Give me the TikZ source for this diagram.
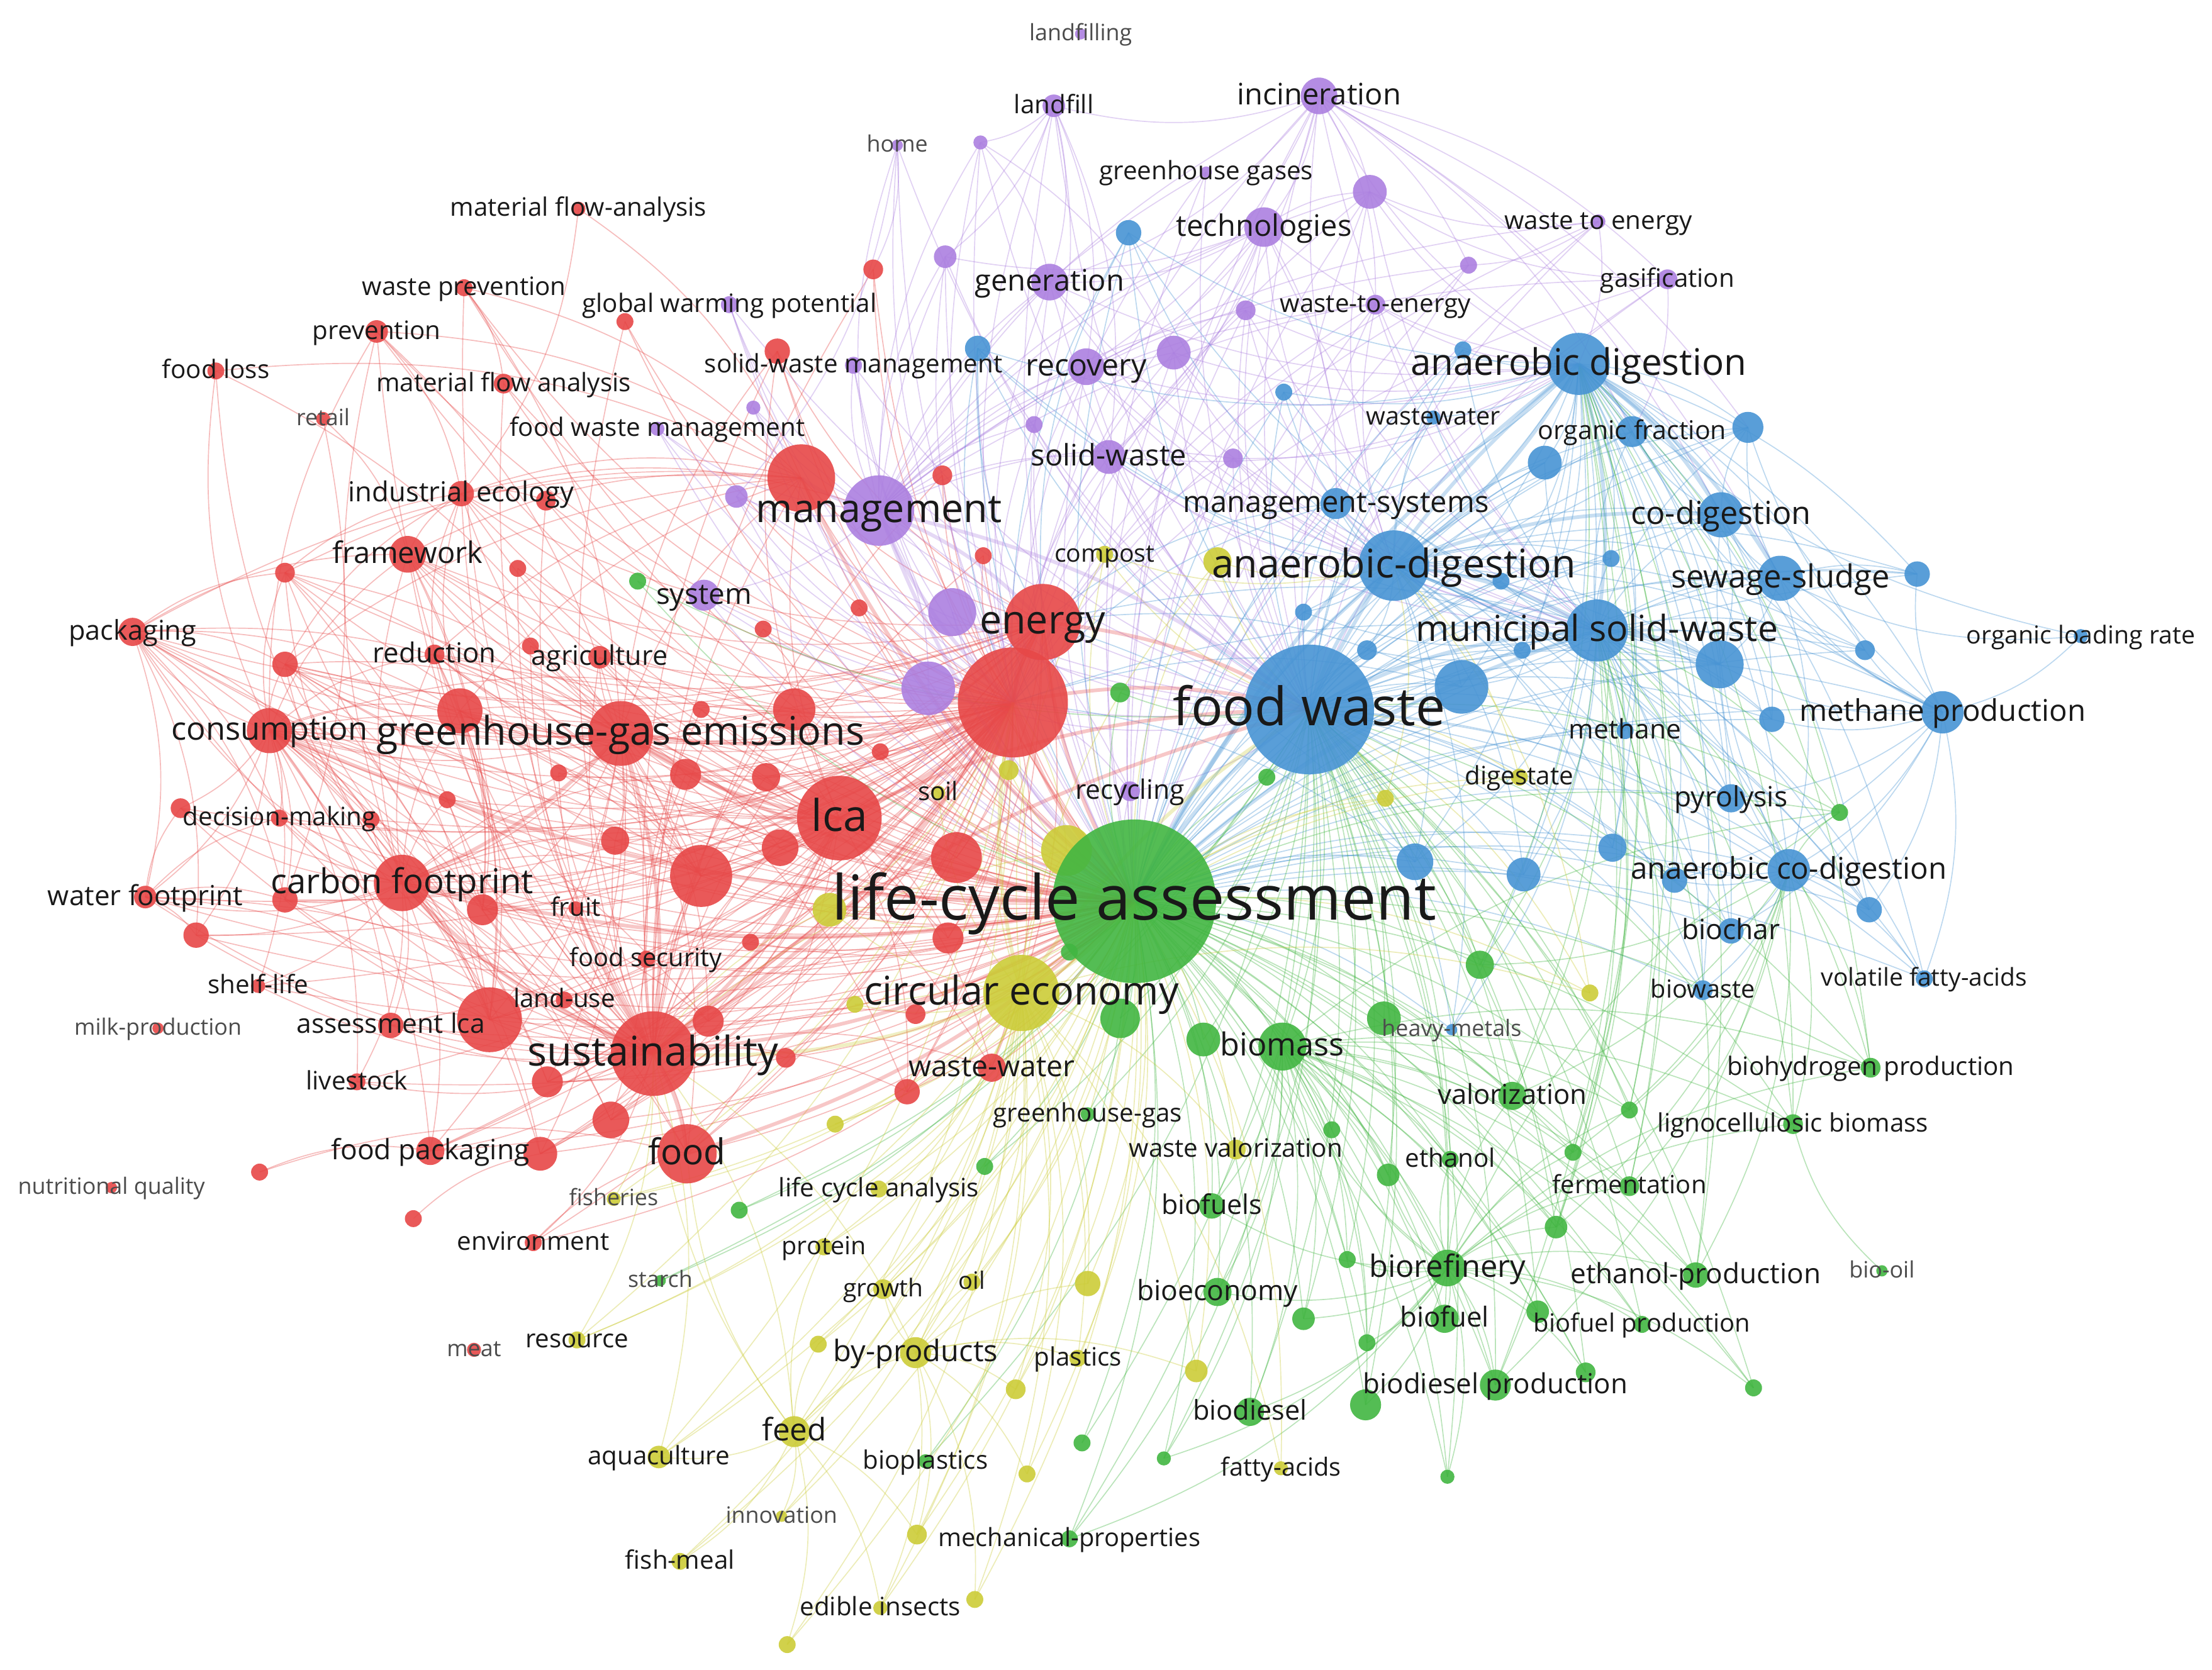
\documentclass[tikz,border=0pt]{standalone}
\usepackage{fontspec}
\setmainfont{Open Sans}
\usetikzlibrary{backgrounds}
\definecolor{cR}{RGB}{231,72,72}
\definecolor{cG}{RGB}{66,182,66}
\definecolor{cB}{RGB}{72,148,212}
\definecolor{cY}{RGB}{204,204,56}
\definecolor{cP}{RGB}{172,128,224}
\tikzset{
  bub/.style={circle, fill=#1, fill opacity=0.9, draw=none, inner sep=0pt, outer sep=0pt},
  lab/.style={inner sep=0pt, text=black!90, anchor=base},
  labg/.style={lab, text=black!70},
  lnk/.style={line width=0.75pt, draw opacity=0.36},
  thk/.style={line width=2.6pt, draw opacity=0.3},
}
\newcommand\kw[5]{\node[bub=#5, minimum size=#4*2pt] (#1) at (#2,#3) {};}
\newcommand\kl[3]{\node[lab, yshift=-0.3*#2pt, font=\fontsize{#2}{#2}\selectfont] (#1-l) at (#1.center) {#3};}
\newcommand\kg[3]{\node[labg, yshift=-0.3*#2pt, font=\fontsize{#2}{#2}\selectfont] (#1-l) at (#1.center) {#3};}
\newcommand\fan[3]{\foreach \hh in {#2}{\foreach \nn in {#3}{\draw[lnk,draw=#1] (\hh.center) to[bend left=16] (\nn.center);}}}
\newcommand\fat[2]{\foreach \aa/\bb in {#2}{\draw[thk,draw=#1] (\aa.center) to[bend left=12] (\bb.center);}}
\begin{document}
\begin{tikzpicture}[x=1pt,y=-1pt]
\useasboundingbox (0,0) rectangle (1568,1183.6);
% ---------------- purple
\kw{Plandfilling}{766}{24}{4}{cP}
\kw{Plandfill}{747}{75}{8}{cP}
\kw{Pincin}{935}{68}{13}{cP}
\kw{Phome}{636}{103}{4}{cP}
\kw{Pu1}{695}{101}{5}{cP}
\kw{Pghgases}{855}{122}{4}{cP}
\kw{Pu2}{971}{136}{12}{cP}
\kw{Ptech}{896}{161}{14}{cP}
\kw{Pwte}{1133}{157}{5}{cP}
\kw{Pgasif}{1182}{198}{7}{cP}
\kw{Pu3}{1041}{188}{6}{cP}
\kw{Pu4}{670}{182}{8}{cP}
\kw{Pgen}{744}{200}{13}{cP}
\kw{Pu5}{883}{220}{7}{cP}
\kw{Pwtetwo}{975}{216}{7}{cP}
\kw{Pgwp}{517}{216}{6}{cP}
\kw{Pu6}{832}{250}{12}{cP}
\kw{Precov}{770}{260}{13}{cP}
\kw{Pswm}{605}{259}{6}{cP}
\kw{Pu7}{534}{289}{5}{cP}
\kw{Pfwm}{466}{304}{5}{cP}
\kw{Pu8}{733}{301}{6}{cP}
\kw{Psw}{786}{324}{12}{cP}
\kw{Pu9}{874}{325}{7}{cP}
\kw{Pu10}{522}{352}{8}{cP}
\kw{Psystem}{499}{422}{11}{cP}
\kw{Pu11}{675}{434}{17}{cP}
\kw{Pu12}{658}{488}{19}{cP}
\kw{Precyc}{801}{561}{7}{cP}
% ---------------- red
\kw{Rmfatwo}{410}{148}{5}{cR}
\kw{Rwp}{329}{204}{6}{cR}
\kw{Rgw}{443}{228}{6}{cR}
\kw{Rprev}{267}{235}{8}{cR}
\kw{Rfloss}{153}{263}{6}{cR}
\kw{Rmfa}{357}{272}{7}{cR}
\kw{Rretail}{229}{297}{5}{cR}
\kw{Ru1}{619}{191}{7}{cR}
\kw{Ru2}{551}{249}{9}{cR}
\kw{Rie}{327}{350}{9}{cR}
\kw{Ru3}{387}{355}{7}{cR}
\kw{Ru4}{568}{339}{24}{cR}
\kw{Ru5}{668}{337}{7}{cR}
\kw{Ru6}{697}{394}{6}{cR}
\kw{Rframe}{289}{393}{13}{cR}
\kw{Ru7}{202}{406}{7}{cR}
\kw{Ru8}{367}{403}{6}{cR}
\kw{Rpack}{94}{448}{10}{cR}
\kw{Ru9}{202}{471}{9}{cR}
\kw{Rred}{308}{464}{7}{cR}
\kw{Ru10}{376}{458}{6}{cR}
\kw{Ragri}{425}{466}{8}{cR}
\kw{Ru11}{609}{431}{6}{cR}
\kw{Ru12}{541}{446}{6}{cR}
\kw{Ru13}{563}{503}{15}{cR}
\kw{Ru14}{497}{503}{6}{cR}
\kw{Ru15}{326}{504}{16}{cR}
\kw{Rghg}{440}{520}{23}{cR}
\kw{Rcons}{191}{518}{16}{cR}
\kw{Ru16}{624}{533}{6}{cR}
\kw{Ru17}{396}{548}{6}{cR}
\kw{Ru18}{486}{549}{11}{cR}
\kw{Ru19}{543}{551}{10}{cR}
\kw{Ru20}{317}{567}{6}{cR}
\kw{Rdm}{198}{580}{6}{cR}
\kw{Ru21}{128}{573}{7}{cR}
\kw{Ru22}{263}{581}{6}{cR}
\kw{Rlca}{595}{580}{30}{cR}
\kw{Ru23}{436}{596}{10}{cR}
\kw{Ru24}{553}{601}{13}{cR}
\kw{Ru26}{497}{621}{22}{cR}
\kw{Rcf}{285}{626}{20}{cR}
\kw{Rwf}{103}{636}{8}{cR}
\kw{Ru27}{202}{638}{9}{cR}
\kw{Ru28}{342}{645}{11}{cR}
\kw{Rfruit}{408}{644}{5}{cR}
\kw{Ru29}{139}{663}{9}{cR}
\kw{Ru30}{672}{665}{11}{cR}
\kw{Ru31}{532}{668}{6}{cR}
\kw{Rfs}{458}{680}{6}{cR}
\kw{Rshelf}{183}{699}{5}{cR}
\kw{Rlanduse}{400}{709}{6}{cR}
\kw{Ru32}{347}{723}{23}{cR}
\kw{Ralca}{277}{727}{9}{cR}
\kw{Ru33}{502}{724}{11}{cR}
\kw{Ru34}{649}{719}{7}{cR}
\kw{Rmilk}{112}{729}{4}{cR}
\kw{Rsust}{463}{747}{30}{cR}
\kw{Ru35}{557}{750}{7}{cR}
\kw{Ru36}{388}{767}{11}{cR}
\kw{Rlive}{253}{767}{6}{cR}
\kw{Rww}{703}{757}{10}{cR}
\kw{Ru37}{643}{774}{9}{cR}
\kw{Ru38}{433}{794}{13}{cR}
\kw{Rfpack}{305}{816}{10}{cR}
\kw{Ru39}{383}{818}{12}{cR}
\kw{Rfood}{487}{818}{21}{cR}
\kw{Ru40}{184}{831}{6}{cR}
\kw{Rnq}{79}{842}{4}{cR}
\kw{Ru41}{293}{864}{6}{cR}
\kw{Renv}{378}{881}{6}{cR}
\kw{Rmeat}{336}{957}{5}{cR}
% ---------------- yellow
\kw{Ycompost}{783}{393}{6}{cY}
\kw{Yu1}{863}{398}{10}{cY}
\kw{Yu2}{715}{546}{7}{cY}
\kw{Ysoil}{665}{562}{5}{cY}
\kw{Ydigest}{1077}{551}{6}{cY}
\kw{Yu3}{982}{566}{6}{cY}
\kw{Yu4}{756}{603}{18}{cY}
\kw{Yu5}{588}{645}{12}{cY}
\kw{Yu6}{606}{712}{6}{cY}
\kw{Yu7}{1127}{704}{6}{cY}
\kw{Yu8}{592}{797}{6}{cY}
\kw{Ywv}{876}{815}{7}{cY}
\kw{Ylcatwo}{623}{843}{6}{cY}
\kw{Yfish}{435}{850}{5}{cY}
\kw{Yprotein}{584}{884}{6}{cY}
\kw{Ygrowth}{626}{914}{7}{cY}
\kw{Yoil}{689}{909}{6}{cY}
\kw{Yu9}{771}{910}{9}{cY}
\kw{Yresource}{409}{950}{6}{cY}
\kw{Yu10}{580}{953}{6}{cY}
\kw{Ybyp}{649}{959}{11}{cY}
\kw{Yplastics}{764}{963}{6}{cY}
\kw{Yu11}{848}{972}{8}{cY}
\kw{Yu12}{720}{985}{7}{cY}
\kw{Yfeed}{563}{1015}{11}{cY}
\kw{Yaqua}{467}{1033}{8}{cY}
\kw{Yu13}{728}{1045}{6}{cY}
\kw{Yfatty}{908}{1041}{5}{cY}
\kw{Yinnov}{554}{1075}{4}{cY}
\kw{Yu14}{650}{1088}{7}{cY}
\kw{Yfishmeal}{482}{1107}{6}{cY}
\kw{Yu15}{691}{1134}{6}{cY}
\kw{Yedible}{624}{1140}{5}{cY}
\kw{Yu16}{558}{1166}{6}{cY}
\kw{Yce}{724}{704}{27}{cY}
% ---------------- green
\kw{Gu1}{452}{412}{6}{cG}
\kw{Gu2}{794}{491}{7}{cG}
\kw{Gu3}{898}{551}{6}{cG}
\kw{Gu5}{1049}{684}{10}{cG}
\kw{Gu6}{794}{722}{14}{cG}
\kw{Gu7}{853}{737}{12}{cG}
\kw{Gbiomass}{909}{742}{17}{cG}
\kw{Gu8}{981}{722}{12}{cG}
\kw{Gu9}{1304}{576}{6}{cG}
\kw{Gghg}{771}{790}{5}{cG}
\kw{Gvalor}{1072}{777}{10}{cG}
\kw{Gbiohyd}{1326}{757}{7}{cG}
\kw{Gu10}{944}{801}{6}{cG}
\kw{Gu11}{1155}{787}{6}{cG}
\kw{Gligno}{1271}{797}{7}{cG}
\kw{Gu12}{984}{833}{8}{cG}
\kw{Gethanol}{1028}{822}{6}{cG}
\kw{Gu13}{1115}{817}{6}{cG}
\kw{Gferm}{1155}{841}{7}{cG}
\kw{Gu14}{698}{827}{6}{cG}
\kw{Gu15}{524}{858}{6}{cG}
\kw{Gbiofuels}{859}{855}{9}{cG}
\kw{Gu16}{1103}{870}{8}{cG}
\kw{Gstarch}{468}{908}{4}{cG}
\kw{Gu17}{955}{893}{6}{cG}
\kw{Gbioref}{1026}{899}{13}{cG}
\kw{Gethprod}{1202}{904}{9}{cG}
\kw{Gbiooil}{1334}{901}{4}{cG}
\kw{Gbioecon}{863}{916}{10}{cG}
\kw{Gu18}{924}{935}{8}{cG}
\kw{Gbiofuel}{1024}{935}{10}{cG}
\kw{Gu19}{1090}{930}{8}{cG}
\kw{Gbfprod}{1164}{939}{6}{cG}
\kw{Gu20}{969}{952}{6}{cG}
\kw{Gu21}{1124}{973}{7}{cG}
\kw{Gbdprod}{1060}{982}{11}{cG}
\kw{Gu22}{1243}{984}{6}{cG}
\kw{Gu23}{968}{996}{11}{cG}
\kw{Gbiodiesel}{886}{1001}{10}{cG}
\kw{Gu24}{767}{1023}{6}{cG}
\kw{Gu25}{825}{1034}{5}{cG}
\kw{Gu26}{1026}{1047}{5}{cG}
\kw{Gbioplast}{656}{1036}{5}{cG}
\kw{Gmech}{758}{1091}{6}{cG}
% ---------------- blue
\kw{Bu1}{800}{165}{9}{cB}
\kw{Bu2}{693}{247}{9}{cB}
\kw{Bu3}{1037}{248}{6}{cB}
\kw{Bu4}{910}{278}{6}{cB}
\kw{Bww}{1016}{296}{5}{cB}
\kw{Bu5}{1239}{303}{11}{cB}
\kw{Bof}{1157}{306}{11}{cB}
\kw{Bu6}{1095}{328}{12}{cB}
\kw{Bms}{947}{357}{11}{cB}
\kw{Bcod}{1220}{365}{16}{cB}
\kw{Bu7}{1142}{396}{6}{cB}
\kw{Bu8}{1064}{412}{6}{cB}
\kw{Bss}{1262}{410}{16}{cB}
\kw{Bu9}{1359}{407}{9}{cB}
\kw{Bu10}{924}{434}{6}{cB}
\kw{Bolr}{1475}{451}{5}{cB}
\kw{Bu11}{969}{461}{7}{cB}
\kw{Bu12}{1079}{461}{6}{cB}
\kw{Bu13}{1322}{461}{7}{cB}
\kw{Bu14}{1219}{471}{17}{cB}
\kw{Bu15}{1036}{487}{19}{cB}
\kw{Bmp}{1377}{505}{15}{cB}
\kw{Bu16}{1256}{510}{9}{cB}
\kw{Bmethane}{1152}{518}{6}{cB}
\kw{Bpyro}{1227}{566}{10}{cB}
\kw{Bu17}{1143}{601}{10}{cB}
\kw{Bu18}{1003}{611}{13}{cB}
\kw{Bu19}{1080}{620}{12}{cB}
\kw{Bacod}{1268}{617}{15}{cB}
\kw{Bu20}{1187}{624}{9}{cB}
\kw{Bu21}{1325}{645}{9}{cB}
\kw{Bbiochar}{1227}{660}{9}{cB}
\kw{Bvfa}{1364}{694}{6}{cB}
\kw{Bbiowaste}{1207}{702}{7}{cB}
\kw{Bhm}{1029}{730}{4}{cB}
\kw{Bad}{1119}{258}{22}{cB}
\kw{Bad2}{988}{401}{25}{cB}
\kw{Bmsw}{1132}{447}{22}{cB}
% ---------------- hubs
\kw{Pmgmt}{623}{362}{25}{cP}
\kw{Ru25}{678}{608}{18}{cR}
\kw{Renergy}{739}{441}{27}{cR}
\kw{Rbig}{718}{498}{39}{cR}
\kw{Bfw}{928}{503}{46}{cB}
\kw{Glca}{804}{639}{58}{cG}
\kw{Gu4}{758}{675}{6}{cG}

\begin{pgfonlayer}{background}
\fill[white] (0,0) rectangle (1568,1183.6);
% red
\fan{cR}{Glca,Rbig,Rghg,Rsust,Renergy,Rlca}{Ru2,Rie,Ru4,Rframe,Rpack,Ru9,Ru13,Ru15,Rcons,Ru18,Ru19,Ru23,Ru24,Ru25,Ru26,Rcf,Ru28,Ru30,Ru32,Ru33,Ru36,Ru38,Rfpack,Ru39,Rfood,Rww,Ru37,Ragri,Rred}
\fan{cR}{Glca,Rbig,Rsust}{Rmfa,Rprev,Rwp,Rgw,Ru1,Ru3,Ru5,Ru6,Ru7,Ru8,Ru10,Ru11,Ru12,Ru14,Ru16,Ru17,Ru20,Rdm,Ru21,Ru22,Rwf,Ru27,Rfruit,Ru29,Ru31,Rfs,Rshelf,Rlanduse,Ralca,Ru34,Ru35,Rlive,Renv}
\fan{cR}{Rcons,Rcf}{Rframe,Ru7,Ru9,Ru15,Rdm,Ru21,Ru22,Rwf,Ru27,Ru29,Rshelf,Ralca,Ru32,Rlive,Rfpack,Ru20,Rred,Rfloss,Rprev,Rpack,Ru26,Ru13,Ru18,Ru23,Ru24,Ru33,Ru36,Ru38,Rfood,Ru39}
\fan{cR}{Rframe,Ru15,Rred,Ru7,Ru9}{Rghg,Ru4,Rie,Ru26,Ru28,Ru32}
\fan{cR}{Rpack}{Ru9,Ru7,Rframe,Rghg,Ru15,Rwf,Ru27,Ru29,Rdm,Ru22,Ru32,Ru4}
\fan{cR}{Rwf}{Ru29,Ru21,Ru27,Rdm,Ru32,Rsust}
\fan{cR}{Rfloss}{Ru4,Rghg}
\fan{cR}{Rretail}{Rframe,Ru27}
\fan{cR}{Rmfatwo}{Ru4,Rie}
\fan{cR}{Rwp}{Rmfa,Ru4,Rghg}
\fan{cR}{Rprev}{Ru4,Rie,Rghg}
\fan{cR}{Rie}{Ru4,Pmgmt,Ru3}
\fan{cR}{Ru40}{Rfood,Rfpack}
\fan{cR}{Ru41}{Ru39}
\fan{cR}{Renv}{Rfood}
% purple
\fan{cP}{Glca,Bfw,Pmgmt,Rbig}{Plandfill,Pincin,Phome,Pu1,Pghgases,Pu2,Ptech,Pwte,Pgasif,Pu3,Pu4,Pgen,Pu5,Pwtetwo,Pgwp,Pu6,Precov,Pswm,Pu7,Pfwm,Pu8,Psw,Pu9,Pu10,Psystem,Pu11,Pu12,Precyc}
\fan{cP}{Bmsw,Bad2,Bad}{Pincin,Ptech,Pu2,Pgen,Precov,Psw,Pu6,Pwtetwo,Pu5,Pu9}
\fan{cP}{Pincin}{Ptech,Pu2,Plandfill,Pgen,Pwtetwo,Pu3,Pgasif,Bss,Bcod,Bu5,Bof,Precov,Psw}
\fan{cP}{Ptech}{Pgen,Precov,Psw,Pu2,Bms,Pu6,Pu4}
\fan{cP}{Plandfill}{Pgen,Precov,Psw,Pu4,Pu8,Pu1}
\fan{cP}{Pwte}{Pu3,Pu2,Bad}
\fan{cP}{Pgasif}{Pu2,Bof}
\fan{cP}{Phome}{Ru1,Pu10}
\fan{cP}{Pu1}{Pgen,Pu6}
% blue
\fan{cB}{Glca,Bfw,Bad,Bad2,Bmsw}{Bu1,Bu2,Bu3,Bu4,Bww,Bu5,Bof,Bu6,Bms,Bcod,Bu7,Bu8,Bss,Bu9,Bu10,Bu11,Bu12,Bu13,Bu14,Bu15,Bmp,Bu16,Bmethane,Bpyro,Bu17,Bu18,Bu19,Bacod,Bu20,Bu21,Bbiochar,Bvfa,Bbiowaste,Bhm}
\fan{cB}{Bolr}{Bmp,Bss,Bad}
\fan{cB}{Bmp}{Bss,Bu9,Bu13,Bu14,Bcod,Bacod,Bu21,Bu16,Bpyro,Bu5,Bof,Bvfa,Bbiochar,Bu20}
\fan{cB}{Bss}{Bcod,Bu9,Bu14,Bu5,Bacod,Bu13}
\fan{cB}{Bacod}{Bcod,Bu14,Bu21,Bbiochar,Bvfa,Bbiowaste,Bu20,Bu17}
\fan{cB}{Bcod}{Bu5,Bof,Bu14,Bu16}
\fan{cB}{Rbig,Renergy}{Bu1,Bu2,Bms,Bu18,Bu15,Bu14}
% green
\fan{cG}{Glca,Bfw}{Gu1,Gu2,Gu3,Gu4,Gu5,Gu6,Gu7,Gbiomass,Gu8,Gu9,Gghg,Gvalor,Gbiohyd,Gu10,Gu11,Gligno,Gu12,Gethanol,Gu13,Gferm,Gu14,Gu15,Gbiofuels,Gu16,Gstarch,Gu17,Gbioref,Gethprod,Gbioecon,Gu18,Gbiofuel,Gu19,Gbfprod,Gu20,Gu21,Gbdprod,Gu22,Gu23,Gbiodiesel,Gu24,Gu25,Gu26,Gbioplast,Gmech}
\fan{cG}{Gbiomass,Gbioref}{Gu10,Gu11,Gligno,Gu12,Gethanol,Gu13,Gferm,Gbiofuels,Gu16,Gu17,Gethprod,Gbioecon,Gu18,Gbiofuel,Gu19,Gbfprod,Gu20,Gu21,Gbdprod,Gu22,Gu23,Gbiodiesel,Gbiohyd,Gu9,Gvalor,Gu26,Gu25,Gmech}
\fan{cG}{Gbioref}{Gbiomass}
\fan{cG}{Bad,Bmsw,Bacod}{Gethprod,Gbiohyd,Gligno,Gferm,Gu9,Gbdprod,Gvalor,Gu5,Gu16,Gu13,Gu11}
\fan{cG}{Gbiooil}{Gligno}
% yellow
\fan{cY}{Glca,Yce}{Ycompost,Yu1,Yu2,Ysoil,Ydigest,Yu3,Yu4,Yu5,Yu6,Yu7,Yu8,Ywv,Ylcatwo,Yfish,Yprotein,Ygrowth,Yoil,Yu9,Yresource,Yu10,Ybyp,Yplastics,Yu11,Yu12,Yfeed,Yaqua,Yu13,Yfatty,Yinnov,Yu14,Yfishmeal,Yu15,Yedible,Yu16}
\fan{cY}{Yfeed}{Yaqua,Yfishmeal,Yinnov,Yedible,Yu16,Yu10,Yprotein,Ybyp,Rfood,Yu14,Rsust}
\fan{cY}{Ybyp}{Ygrowth,Yoil,Yu9,Yplastics,Yu12,Yu14,Yu13,Yedible,Yu15,Yu11}
\fan{cY}{Rbig,Rsust}{Yu4,Yu5,Ybyp,Yfeed,Yaqua,Yresource,Yfish}
\fan{cY}{Bfw,Bad2}{Yu1,Ydigest,Yu3,Yu7,Ycompost}
% strong links
\fat{cB}{Glca/Bfw,Bfw/Bad,Bfw/Bad2,Bfw/Bmsw,Bad/Bad2,Bad/Bmsw,Bad2/Bmsw,Bmsw/Bu14,Bad/Bcod,Bad/Bss,Bad2/Bcod,Glca/Bad2,Glca/Bmsw,Glca/Bad}
\fat{cR}{Glca/Rbig,Glca/Renergy,Glca/Rlca,Glca/Rghg,Glca/Rsust,Glca/Ru4,Glca/Rcf,Glca/Rfood,Glca/Rcons,Rbig/Bfw,Renergy/Bfw,Rsust/Bfw,Rlca/Bfw,Rbig/Renergy,Rbig/Rghg,Rbig/Rlca,Rbig/Rsust,Rghg/Rsust,Rghg/Rcf,Rsust/Rfood,Rsust/Rcf,Rlca/Rghg,Rlca/Rsust}
\fat{cP}{Glca/Pmgmt,Pmgmt/Bfw,Rbig/Pmgmt,Pmgmt/Ru4,Pmgmt/Renergy}
\fat{cY}{Glca/Yce,Yce/Bfw,Yce/Rsust,Yce/Rbig}
\end{pgfonlayer}

% ---------------- labels
\kg{Plandfilling}{16}{landfilling}
\kl{Plandfill}{18}{landfill}
\kl{Pincin}{21}{incineration}
\kg{Phome}{16}{home}
\kl{Pghgases}{18}{greenhouse gases}
\kl{Ptech}{21}{technologies}
\kl{Pwte}{18}{waste to energy}
\kl{Pgasif}{18}{gasification}
\kl{Pgen}{21}{generation}
\kl{Pwtetwo}{18}{waste-to-energy}
\kl{Pgwp}{18}{global warming potential}
\kl{Precov}{21.5}{recovery}
\kl{Pswm}{18}{solid-waste management}
\kl{Pfwm}{18}{food waste management}
\kl{Psw}{21}{solid-waste}
\kl{Pmgmt}{28}{management}
\kl{Psystem}{20.5}{system}
\kl{Precyc}{19}{recycling}
\kl{Rmfatwo}{18}{material flow-analysis}
\kl{Rwp}{18}{waste prevention}
\kl{Rprev}{18}{prevention}
\kl{Rfloss}{18}{food loss}
\kl{Rmfa}{18}{material flow analysis}
\kg{Rretail}{16}{retail}
\kl{Rie}{19.5}{industrial ecology}
\kl{Rframe}{21}{framework}
\kl{Rpack}{19.3}{packaging}
\kl{Rred}{19.5}{reduction}
\kl{Ragri}{19.2}{agriculture}
\kl{Renergy}{28}{energy}
\kl{Rghg}{28}{greenhouse-gas emissions}
\kl{Rcons}{22.6}{consumption}
\kl{Rdm}{18}{decision-making}
\kl{Rlca}{31}{lca}
\kl{Rcf}{24.3}{carbon footprint}
\kl{Rwf}{19.6}{water footprint}
\kl{Rfruit}{18}{fruit}
\kl{Rfs}{17.8}{food security}
\kl{Rshelf}{18}{shelf-life}
\kl{Rlanduse}{18}{land-use}
\kl{Ralca}{19}{assessment lca}
\kg{Rmilk}{16}{milk-production}
\kl{Rsust}{29}{sustainability}
\kl{Rlive}{18}{livestock}
\kl{Rww}{20.7}{waste-water}
\kl{Rfpack}{19.8}{food packaging}
\kl{Rfood}{25.3}{food}
\kg{Rnq}{16}{nutritional quality}
\kl{Renv}{18}{environment}
\kg{Rmeat}{16}{meat}
\kl{Ycompost}{17.5}{compost}
\kl{Ysoil}{18}{soil}
\kl{Ydigest}{18}{digestate}
\kl{Yce}{28}{circular economy}
\kl{Ywv}{18}{waste valorization}
\kl{Ylcatwo}{18}{life cycle analysis}
\kg{Yfish}{16}{fisheries}
\kl{Yprotein}{17.6}{protein}
\kl{Ygrowth}{17.4}{growth}
\kl{Yoil}{17}{oil}
\kl{Yresource}{18}{resource}
\kl{Ybyp}{21}{by-products}
\kl{Yplastics}{18}{plastics}
\kl{Yfeed}{22}{feed}
\kl{Yaqua}{18}{aquaculture}
\kl{Yfatty}{17.7}{fatty-acids}
\kg{Yinnov}{16}{innovation}
\kl{Yfishmeal}{18}{fish-meal}
\kl{Yedible}{18}{edible insects}
\kl{Glca}{44}{life-cycle assessment}
\kl{Gbiomass}{22.5}{biomass}
\kl{Gghg}{18}{greenhouse-gas}
\kl{Gvalor}{19.5}{valorization}
\kl{Gbiohyd}{18}{biohydrogen production}
\kl{Gligno}{18}{lignocellulosic biomass}
\kl{Gethanol}{18}{ethanol}
\kl{Gferm}{17.8}{fermentation}
\kl{Gbiofuels}{19.2}{biofuels}
\kg{Gstarch}{16}{starch}
\kl{Gbioref}{21.8}{biorefinery}
\kl{Gethprod}{19.7}{ethanol-production}
\kg{Gbiooil}{16}{bio-oil}
\kl{Gbioecon}{19.8}{bioeconomy}
\kl{Gbiofuel}{19.5}{biofuel}
\kl{Gbfprod}{17.8}{biofuel production}
\kl{Gbdprod}{19.6}{biodiesel production}
\kl{Gbiodiesel}{19.3}{biodiesel}
\kl{Gbioplast}{18}{bioplastics}
\kl{Gmech}{17.8}{mechanical-properties}
\kl{Bad}{26}{anaerobic digestion}
\kl{Bww}{17.7}{wastewater}
\kl{Bof}{18.3}{organic fraction}
\kl{Bms}{21}{management-systems}
\kl{Bcod}{22.5}{co-digestion}
\kl{Bad2}{28}{anaerobic-digestion}
\kl{Bss}{22.6}{sewage-sludge}
\kl{Bmsw}{25.5}{municipal solid-waste}
\kl{Bolr}{17.5}{organic loading rate}
\kl{Bfw}{37.5}{food waste}
\kl{Bmp}{21.2}{methane production}
\kl{Bmethane}{19}{methane}
\kl{Bpyro}{19.8}{pyrolysis}
\kl{Bacod}{21.2}{anaerobic co-digestion}
\kl{Bbiochar}{19.8}{biochar}
\kl{Bvfa}{17.4}{volatile fatty-acids}
\kl{Bbiowaste}{17.7}{biowaste}
\kg{Bhm}{16}{heavy-metals}
\end{tikzpicture}
\end{document}
